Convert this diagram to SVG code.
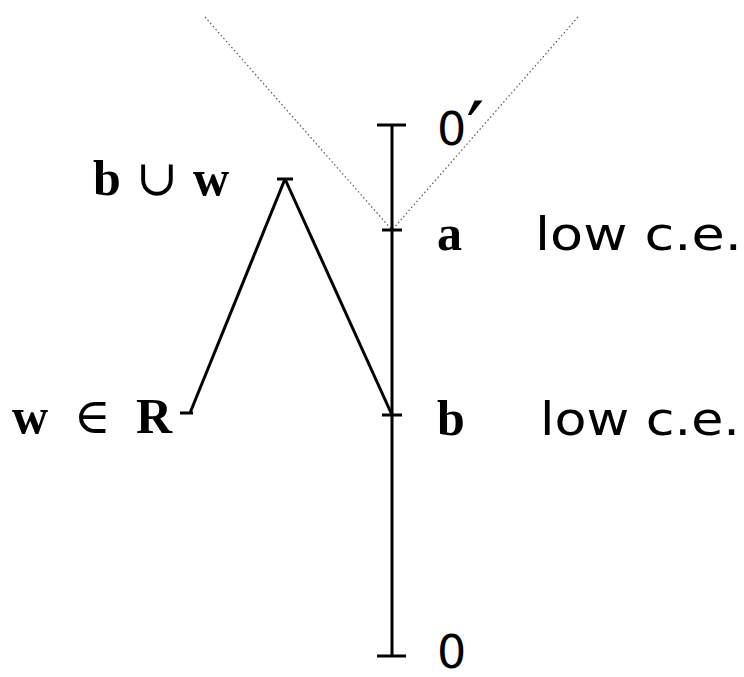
<svg xmlns="http://www.w3.org/2000/svg" width="744" height="677" viewBox="0 0 744 677">
<style>
.ln{stroke:#000;stroke-width:3;fill:none;stroke-linecap:butt}
.dot{stroke:#555;stroke-width:1.2;stroke-dasharray:1.5 2.5;fill:none}
.sans{font-family:"DejaVu Sans","Liberation Sans",sans-serif;font-size:46px;fill:#000}
.bold{font-family:"Liberation Serif",serif;font-weight:bold;font-size:50px;fill:#000}
.math{font-family:"Liberation Serif","DejaVu Serif",serif;font-weight:normal}
</style>
<rect width="744" height="677" fill="#fff"/>
<g id="connectors">
<line class="dot" x1="205" y1="17" x2="392" y2="230"/>
<line class="dot" x1="578" y1="17" x2="392" y2="230"/>
<line class="ln" x1="392" y1="125" x2="392" y2="656"/>
<line class="ln" x1="285" y1="179" x2="190" y2="413"/>
<line class="ln" x1="285" y1="179" x2="392" y2="415"/>
</g>
<g id="node-0prime">
<line class="ln" x1="377" y1="125" x2="406" y2="125"/>
<text class="sans" x="437" y="145">0<tspan font-size="80" dx="0" dy="14">′</tspan></text>
</g>
<g id="node-a">
<line class="ln" x1="382" y1="230" x2="402" y2="230"/>
<text class="bold" x="437" y="250">a</text>
<text class="sans" x="535" y="250" textLength="207" lengthAdjust="spacingAndGlyphs">low c.e.</text>
</g>
<g id="node-b">
<line class="ln" x1="382" y1="415" x2="402" y2="415"/>
<text class="bold" x="437" y="435">b</text>
<text class="sans" x="540" y="435" textLength="200" lengthAdjust="spacingAndGlyphs">low c.e.</text>
</g>
<g id="node-0">
<line class="ln" x1="377" y1="656" x2="406" y2="656"/>
<text class="sans" x="437" y="668">0</text>
</g>
<g id="node-bw">
<line class="ln" x1="277" y1="179" x2="293" y2="179"/>
<text class="bold" x="93" y="195" textLength="136" lengthAdjust="spacing">b <tspan class="math">∪</tspan> w</text>
</g>
<g id="node-wR">
<line class="ln" x1="180" y1="413" x2="193" y2="413"/>
<text class="bold" x="12" y="433" textLength="160" lengthAdjust="spacing">w <tspan class="math">∈</tspan> R</text>
</g>
</svg>
